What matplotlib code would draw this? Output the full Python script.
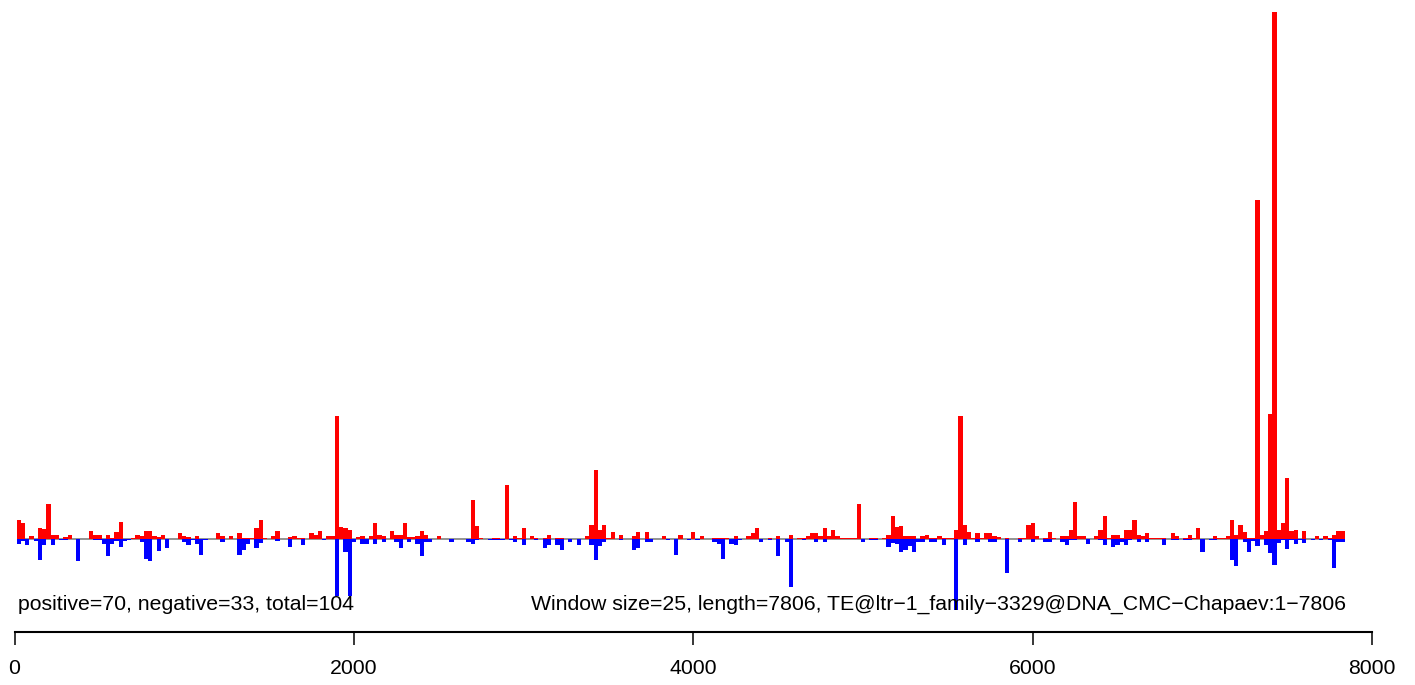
import matplotlib
matplotlib.use("Agg")
import matplotlib.pyplot as plt

# ---- data (window index -> signal height), window size 25, length 7806 ----
window_size = 25
seq_length = 7806

red_windows = [0, 1, 3, 5, 6, 7, 8, 9, 11, 12, 17, 18, 19, 21, 22, 23, 24, 27, 28, 29, 30,
               31, 32, 33, 34, 38, 39, 40, 42, 47, 48, 50, 52, 53, 54, 55, 56, 57, 58, 60, 61,
               64, 65, 66, 67, 69, 70, 71, 73, 74, 75, 76, 77, 78, 80, 81, 83, 84, 85, 86, 88, 89, 90, 91, 92, 93, 94, 95, 96,
               99, 107, 108, 109, 112, 113, 115, 117, 118, 119, 121, 122, 124, 125, 127, 128,
               134, 135, 136, 137, 138, 139, 140, 142, 145, 146, 148, 152, 156, 159, 161,
               164, 165, 166, 167, 169, 172, 173, 174, 177, 179, 182, 184, 185, 186, 187, 188, 189, 190, 191, 192, 193, 194, 195,
               196, 197, 198, 201, 202, 204, 205, 206, 207, 208, 209, 210, 211, 213, 214, 215, 216, 217, 218, 219, 220, 221, 222, 223, 224, 225, 226, 227, 228,
               229, 230, 231, 233, 236, 237, 238, 239, 240, 242, 243, 244, 246, 247, 248, 249, 250, 251, 254, 255, 256, 257, 258, 259, 260, 261,
               262, 263, 264, 265, 266, 267, 268, 269, 270, 272, 273, 275, 276, 277, 278, 282, 283, 284, 285, 286, 287, 288, 289, 290, 291,
               292, 293, 294, 295, 296, 297, 298, 299, 300, 301, 303, 306, 308, 309, 310, 311, 312]
red_values = [19, 16, 3, 11, 10, 35, 4, 4, 2, 4, 8, 4, 4, 4, 1, 7, 17, 1, 4, 3, 8,
              8, 3, 2, 4, 6, 3, 2, 3, 6, 3, 3, 6, 1, 1, 1, 11, 19, 1, 3, 8,
              2, 3, 1, 1, 6, 4, 8, 3, 3, 123, 12, 11, 9, 2, 3, 3, 16, 4, 3, 8, 4, 4, 16, 2, 2, 3, 8, 4,
              3, 39, 13, 1, 1, 1, 54, 3, 1, 11, 3, 1, 1, 4, 1, 1,
              3, 14, 69, 9, 14, 1, 7, 4, 3, 7, 7, 3, 4, 7, 3,
              1, 1, 1, 1, 3, 3, 6, 11, 1, 3, 4, 1, 1, 3, 6, 6, 3, 11, 3, 9, 3, 1, 1,
              1, 1, 35, 1, 1, 1, 4, 23, 12, 13, 3, 3, 3, 3, 4, 1, 1, 3, 1, 1, 1, 9, 123, 14, 7, 1, 6, 1, 6,
              6, 3, 2, 1, 1, 1, 14, 16, 3, 1, 7, 1, 3, 3, 9, 37, 3, 3, 3, 9, 23, 1, 4, 4, 1, 9,
              9, 19, 4, 3, 6, 1, 1, 1, 1, 6, 3, 1, 4, 1, 11, 3, 1, 1, 3, 19, 4, 14, 7, 1, 1,
              339, 4, 8, 125, 527, 9, 16, 61, 8, 9, 8, 3, 3, 1, 4, 8, 8]

blue_windows = [0, 1, 2, 4, 5, 6, 8, 10, 11, 14, 18, 19, 20, 21, 22, 23, 24, 25, 26, 29, 30,
                31, 33, 35, 39, 40, 41, 42, 43, 44, 48, 52, 53, 54, 56, 57, 61,
                64, 67, 72, 75, 77, 78, 79, 81, 82, 84, 86, 89, 90, 92, 94, 95, 96,
                97, 102, 106, 107, 108, 111, 112, 113, 114, 116, 117, 119, 122, 124, 125, 127, 128,
                130, 132, 135, 136, 137, 138, 142, 145, 146, 148, 149, 153, 155, 158, 160,
                164, 165, 166, 168, 169, 170, 175, 177, 179, 181, 182, 185, 188, 190,
                199, 201, 202, 205, 206, 207, 208, 209, 210, 211, 212, 213, 215, 216, 218, 221, 223, 226,
                229, 230, 233, 236, 239, 242, 243, 246, 247, 248, 249, 252, 255, 256, 258, 259, 260, 261,
                262, 264, 266, 270, 272, 273, 275, 276, 279, 281, 282, 286, 287, 289, 290,
                291, 292, 294, 295, 296, 297, 298, 299, 300, 301, 302, 303, 305, 307, 309, 310, 311, 312]
blue_values = [5, 2, 6, 2, 21, 6, 6, 1, 1, 22, 1, 1, 5, 17, 5, 2, 8, 2, 1, 3, 20,
               22, 12, 9, 3, 6, 1, 5, 16, 1, 3, 16, 11, 5, 9, 4, 2,
               8, 6, 1, 57, 13, 57, 3, 5, 5, 5, 3, 3, 9, 3, 5, 17, 3,
               3, 3, 3, 5, 1, 1, 1, 1, 1, 1, 3, 6, 1, 9, 6, 6, 11,
               3, 6, 6, 21, 7, 3, 1, 11, 9, 3, 3, 1, 16, 1, 1,
               3, 5, 20, 5, 6, 1, 3, 1, 17, 3, 48, 1, 3, 3,
               3, 1, 1, 8, 4, 5, 13, 11, 7, 13, 3, 3, 3, 3, 6, 71, 6, 3,
               3, 3, 34, 3, 3, 3, 3, 3, 6, 1, 1, 5, 1, 6, 8, 6, 3, 6,
               1, 3, 3, 6, 1, 1, 1, 1, 13, 1, 1, 21, 27, 3, 13,
               2, 7, 6, 14, 26, 4, 1, 10, 1, 5, 1, 4, 1, 1, 1, 29, 3, 3]

x_ticks = [0, 2000, 4000, 6000, 8000]
left_label = "positive=70, negative=33, total=104"
right_label = "Window size=25, length=7806, TE@ltr\u22121_family\u22123329@DNA_CMC\u2212Chapaev:1\u22127806"

# ---- figure ----
W, H = 1415, 685
fig = plt.figure(figsize=(W / 100, H / 100), dpi=100)
plt.rcParams['font.family'] = ['Liberation Sans', 'DejaVu Sans']

x0_px, x1_px = 14.5, 1372.0
top_px, axis_px = 12.0, 632.0
base_px = 539.3
ymax = max(red_values)
ymin = -(axis_px - base_px) * ymax / (base_px - top_px)
ax = fig.add_axes([x0_px / W, (H - axis_px) / H, (x1_px - x0_px) / W, (axis_px - top_px) / H])
ax.set_xlim(0, 8000)
ax.set_ylim(ymin, ymax)

offset = 13
red_left = [offset + window_size * k for k in red_windows]
blue_left = [offset + window_size * k for k in blue_windows]
n_windows = (seq_length + window_size - 1) // window_size
ax.hlines(0, offset, offset + window_size * n_windows, color="#808080", lw=1.2, zorder=1)
ax.bar(red_left, red_values, width=window_size, align="edge", color="#FF0000", linewidth=0, zorder=2)
ax.bar(blue_left, [-v for v in blue_values], width=window_size, align="edge", color="#0000FF", linewidth=0, zorder=2)

ytext = -(604 - base_px) * ymax / (base_px - top_px)
ax.text(20, ytext, left_label, ha="left", va="center", fontsize=15.3, color="#000000")
ax.text(7845, ytext, right_label, ha="right", va="center", fontsize=15.3, color="#000000")

for s in ["top", "right", "left"]:
    ax.spines[s].set_visible(False)
ax.spines["bottom"].set_bounds(0, 8000)
ax.spines["bottom"].set_linewidth(1.5)
ax.set_yticks([])
ax.set_xticks(x_ticks)
ax.set_xticklabels([str(t) for t in x_ticks])
ax.tick_params(axis="x", length=9.5, width=1.1, pad=10, labelsize=15.3)

fig.savefig("out.png", dpi=100)
